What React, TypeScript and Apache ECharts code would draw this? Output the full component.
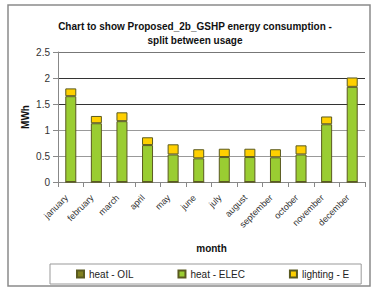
import React, { useEffect, useRef } from "react";
import * as echarts from "echarts";

const months = ["january", "february", "march", "april", "may", "june", "july", "august", "september", "october", "november", "december"];
const heatOil = [0, 0, 0, 0, 0, 0, 0, 0, 0, 0, 0, 0];
const heatElec = [1.65, 1.13, 1.17, 0.71, 0.53, 0.455, 0.48, 0.48, 0.475, 0.53, 1.11, 1.83];
const lighting = [0.15, 0.14, 0.17, 0.15, 0.195, 0.175, 0.16, 0.16, 0.155, 0.175, 0.15, 0.18];
const yTicks = [0, 0.5, 1, 1.5, 2, 2.5];

export default function App() {
  const ref = useRef<HTMLDivElement>(null);
  useEffect(() => {
    const chart = echarts.init(ref.current!, null, { renderer: "svg" });
    const font = "Liberation Sans, Arial, sans-serif";
    const barBorder = { borderColor: "#5a5a20", borderWidth: 1 };
    chart.setOption({
      animation: false,
      backgroundColor: "#fff",
      textStyle: { fontFamily: font },
      title: {
        text: "Chart to show Proposed_2b_GSHP energy consumption -\nsplit between usage",
        left: 190,
        textAlign: "center",
        top: 14,
        textStyle: { fontSize: 10, fontWeight: "bold", color: "#111", lineHeight: 14, fontFamily: font },
      },
      graphic: [
        { type: "rect", shape: { x: 8, y: 5, width: 362, height: 281 }, style: { fill: "none", stroke: "#8a8a8a", lineWidth: 1.5 }, silent: true },
      ],
      legend: {
        left: 50,
        top: 264,
        padding: [5, 12, 5, 26],
        itemGap: 44,
        itemWidth: 7,
        itemHeight: 7,
        borderColor: "#999",
        borderWidth: 1,
        icon: "rect",
        textStyle: { fontSize: 10, color: "#222", fontFamily: font },
        data: ["heat - OIL", "heat - ELEC", "lighting - E"],
      },
      grid: { left: 58, top: 52, right: 7, bottom: 105 },
      xAxis: {
        type: "category",
        data: months,
        name: "month",
        nameLocation: "middle",
        nameGap: 61,
        nameMoveOverlap: false,
        nameTextStyle: { fontSize: 10, fontWeight: "bold", color: "#111", fontFamily: font },
        axisLine: { lineStyle: { color: "#888" } },
        axisTick: { show: true, alignWithLabel: false, lineStyle: { color: "#888" } },
        axisLabel: { rotate: 45, fontSize: 9, color: "#333", margin: 10, padding: [0, 6, 0, 0], interval: 0 },
      },
      yAxis: {
        type: "value",
        min: yTicks[0],
        max: yTicks[yTicks.length - 1],
        interval: 0.5,
        name: "MWh",
        nameLocation: "middle",
        nameGap: 28,
        nameMoveOverlap: false,
        nameTextStyle: { fontSize: 10, fontWeight: "bold", color: "#111", fontFamily: font },
        axisLine: { show: true, lineStyle: { color: "#888" } },
        axisTick: { show: true, lineStyle: { color: "#888" } },
        axisLabel: { fontSize: 10, color: "#333", formatter: (v: number) => String(v) },
        splitLine: { lineStyle: { color: ["#888", "#999", "#999", "#333", "#333", "#777"], width: 1 } },
      },
      series: [
        { name: "heat - OIL", type: "bar", stack: "t", data: heatOil, barWidth: "43%", itemStyle: { color: "#808020", ...barBorder } },
        { name: "heat - ELEC", type: "bar", stack: "t", data: heatElec, barWidth: "43%", itemStyle: { color: "#9ACD32", ...barBorder } },
        { name: "lighting - E", type: "bar", stack: "t", data: lighting, barWidth: "43%", itemStyle: { color: "#FFD000", ...barBorder } },
      ],
    });
    return () => chart.dispose();
  }, []);
  return <div ref={ref} style={{ position: "absolute", left: 0, top: 0, width: 372, height: 287 }} />;
}
